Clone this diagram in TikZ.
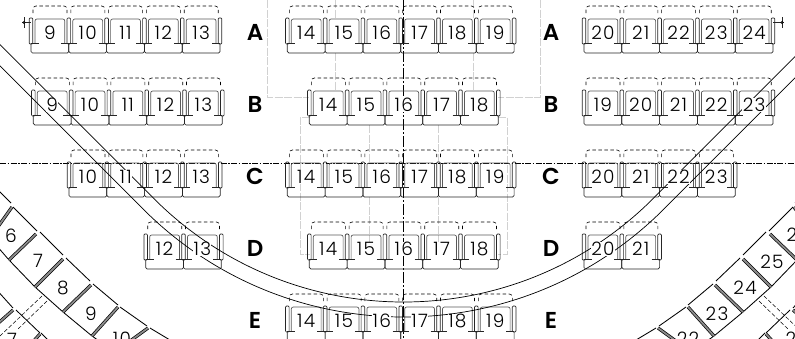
\documentclass[tikz,border=0pt]{standalone}
\usepackage{fontspec}
\usetikzlibrary{calc}
\newfontfamily\seatfont{Poppins Light}[LetterSpace=7]
\newfontfamily\rowfont{Poppins}[BoldFont={Poppins SemiBold}]
\tikzset{
	seatline/.style={line width=0.7pt, black!85},
	seatnum/.style={fill=white, inner sep=0.3pt, font=\seatfont\fontsize{18.5}{18.5}\selectfont, text=black},
	rowlabel/.style={inner sep=0pt, font=\rowfont\bfseries\fontsize{23}{23}\selectfont},
	centerline/.style={line width=0.7pt, dash pattern=on 11pt off 2pt on 2pt off 2pt},
	crossline/.style={line width=0.45pt, dash pattern=on 6pt off 1.5pt on 1.5pt off 1.5pt},
	guide/.style={line width=0.5pt, black!18, dash pattern=on 8pt off 1.5pt},
	armband/.style={line width=0.7pt, double=black!45, double distance=1.8pt},
	edge/.style={line width=0.85pt},
}
% row name / first arm x / arm top y / first seat / last seat
\newcommand{\RowList}{AL/31/18/9/13, AM/287.3/18/14/19, AR/584/18/20/24,
	BL/33.3/90/9/13, BM/309.3/90/14/18, BR/584/90/19/23,
	CL/69/162/10/13, CM/287.3/162/14/19, CR/584/162/20/23,
	DL/145.7/234/12/13, DM/309.3/234/14/18, DR/584/234/20/21,
	EM/287.3/306/14/19}
\newcommand{\SeatShape}[2]{%
	\draw[seatline, rounded corners=1pt] (#1-1.8,#2) rectangle (#1+1.8,#2+26);
	\draw[seatline, black!65, rounded corners=2pt] (#1+4,#2+25) -- (#1+4,#2+1) -- (#1+33.8,#2+1) -- (#1+33.8,#2+25);
	\draw[seatline] (#1,#2+25.5) -- (#1+8,#2+25.5) (#1+29.8,#2+25.5) -- (#1+37.8,#2+25.5);
	\draw[seatline, rounded corners=1.5pt] (#1,#2+25.5) -- (#1,#2+35) -- (#1+37.8,#2+35) -- (#1+37.8,#2+25.5);
	\draw[line width=0.6pt, dash pattern=on 3.5pt off 2.5pt, rounded corners=3pt] (#1+2,#2-5) -- (#1+2,#2-12) -- (#1+36,#2-12) -- (#1+36,#2-5);
}

\begin{document}
\begin{tikzpicture}[x=1pt, y=-1pt]
\useasboundingbox (0,0) rectangle (795,338);
\clip (0,0) rectangle (795,338);
\pgfmathsetmacro{\arcX}{403.5}
\pgfmathsetmacro{\arcY}{-51}

% Draw guides
\draw[guide] (267,0) -- (267,97) -- (309,97);
\draw[guide] (540,0) -- (540,97) -- (498,97);
\foreach \gx in {335,473} {
	\draw[guide] (\gx,0) -- (\gx,18);
	\draw[guide] (\gx,53) -- (\gx,90);
}
\draw[guide] (310,117) -- (300,117) -- (300,254) -- (310,254);
\draw[guide] (498,117) -- (507,117) -- (507,254) -- (498,254);
\foreach \gx in {369,438} {
	\draw[guide] (\gx,125) -- (\gx,162);
	\draw[guide] (\gx,197) -- (\gx,254);
}

% Draw center lines
\draw[centerline] (403.5,0) -- (403.5,338);
\draw[crossline] (0,163) -- (795,163);

% Draw rows
\foreach \rowN/\xs/\ys/\first/\last in \RowList {
	\foreach \seat in {\first,...,\last} {
		\pgfmathsetmacro{\xp}{\xs+37.8*(\seat-\first)}
		\SeatShape{\xp}{\ys}
	}
	\pgfmathsetmacro{\xe}{\xs+37.8*(\last-\first+1)}
	\draw[seatline, rounded corners=1pt] (\xe-1.8,\ys) rectangle (\xe+1.8,\ys+26);
}

% Draw aisle lights
\draw[seatline] (22,22.5) -- (31,22.5) (24,17) -- (24,28);
\draw[seatline] (773,22.5) -- (784,22.5) (782,17) -- (782,28);
\draw (24,22.5) circle[radius=1.3];
\draw (782,22.5) circle[radius=1.3];

% Draw curved sections
\foreach \sgn/\off in {1/0,-1/806} {
	\begin{scope}[xshift=\off pt, xscale=\sgn]
		\foreach \ax/\ay/\bx/\by in {-5/187/11/203, 13/207/37/231, 40/232/63/255, 66/258/90/281, 93/284/118/305, 120/307/147/326, 150/328/175/343, -5/288/13/308, 16/310/40/333, 41/333/50/342} {
			\draw[edge] (\ax,\ay) -- (\bx,\by);
		}
		\draw[edge] (-10,238) -- (9,260) -- (35,287) -- (63,312) -- (92,336) -- (115,352);
		\foreach \ax/\ay/\bx/\by in {-10/238/12/207, 9/260/36/234, 35/287/63/259, 63/312/91/285, 92/336/118/307, 115/352/148/328, -5/326/13/310, 30/345/40/334} {
			\draw[armband] (\ax,\ay) -- (\bx,\by);
		}
		\draw[line width=0.5pt, dash pattern=on 4pt off 2pt] (42,296) -- (0,336);
		\draw[line width=0.5pt, dash pattern=on 4pt off 2pt] (47,301) -- (17,330);
	\end{scope}
}

% Draw arcs
\foreach \rad in {353,368} {
	\draw[line width=0.7pt] (\arcX-\rad*0.7071-200,\arcY+\rad*0.7071-200) -- (\arcX-\rad*0.7071,\arcY+\rad*0.7071)
		arc[start angle=135, end angle=45, radius=\rad] -- ++(200,-200);
}

% Draw seat numbers
\foreach \rowN/\xs/\ys/\first/\last in \RowList {
	\foreach \seat in {\first,...,\last} {
		\pgfmathsetmacro{\xp}{\xs+37.8*(\seat-\first)+18.9}
		\node[seatnum] (n\rowN-\seat) at (\xp,\ys+15) {\seat};
	}
}
\foreach \nName/\nx/\ny/\nt in {cA/11/236/6, cB/38/261/7, cC/63/288/8, cD/91/314/9, cE/122/339/10, cF/12/340/7,
	cG/772/262/25, cH/745/288/24, cI/717/314/23, cJ/688/339/22, cK/792/235/2, cL/791/339/2} {
	\node[seatnum, fill=none] (\nName) at (\nx,\ny) {\nt};
}

% Draw row letters
\foreach \rName/\rY in {A/32, B/104, C/176, D/248, E/320} {
	\node[rowlabel] (l\rName) at (255,\rY) {\rName};
	\node[rowlabel] (r\rName) at (551,\rY) {\rName};
}
\end{tikzpicture}
\end{document}
